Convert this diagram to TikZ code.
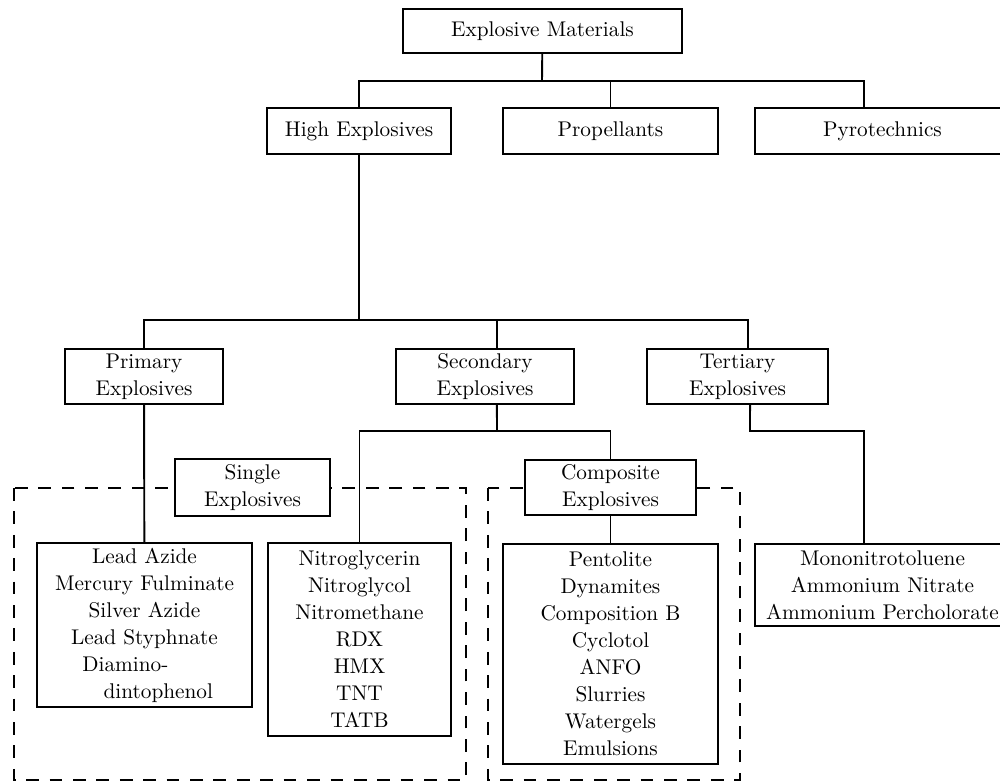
\documentclass[tikz,border=0pt]{standalone}
\usepackage{tikz}
\usetikzlibrary{positioning}

\begin{document}
\begin{tikzpicture}[x=0.47pt, y=-0.47pt,
    box/.style={draw, fill=white, line width=0.9pt, align=center, inner sep=1pt,
      font=\fontsize{10}{12.7}\selectfont},
    link/.style={line width=0.9pt},
    group/.style={line width=0.9pt, dash pattern=on 6pt off 5pt}]
  \clip (0,0) rectangle (1000,783);
  \draw[group] (14,488) rectangle (466,780);
  \draw[group] (488,488) rectangle (740,780);

  \node[box, minimum width=131.1pt, minimum height=20.7pt] (top) at (542.5,31) {Explosive Materials};
  \node[box, minimum width=86.5pt, minimum height=21.6pt] (hexp) at (359,131) {High Explosives};
  \node[box, minimum width=101pt, minimum height=21.6pt] (prop) at (610.5,131) {Propellants};
  \node[box, minimum width=120pt, minimum height=21.6pt] (pyro) at (882.5,131) {Pyrotechnics};

  \node[box, minimum width=74.3pt, minimum height=25.9pt] (prim) at (144,376.5) {Primary\\Explosives};
  \node[box, minimum width=83.7pt, minimum height=25.9pt] (sec) at (485,376.5) {Secondary\\Explosives};
  \node[box, minimum width=85.1pt, minimum height=25.9pt] (ter) at (737.5,376.5) {Tertiary\\Explosives};

  \node[box, minimum width=72.9pt, minimum height=26.8pt] (single) at (252.5,487.5) {Single\\Explosives};
  \node[box, minimum width=80.4pt, minimum height=25.9pt] (comp) at (610.5,487.5) {Composite\\Explosives};

  \node[box, minimum width=101pt, minimum height=77.1pt] (lead) at (144.5,625)
    {Lead Azide\\Mercury Fulminate\\Silver Azide\\Lead Styphnate\\
     Diamino-\rule{18pt}{0pt}\\\rule{13pt}{0pt}dintophenol};
  \node[box, minimum width=86pt, minimum height=90.7pt] (nitro) at (359.5,639.5)
    {Nitroglycerin\\Nitroglycol\\Nitromethane\\RDX\\HMX\\TNT\\TATB};
  \node[box, minimum width=101pt, minimum height=103.4pt] (pento) at (610.5,654)
    {Pentolite\\Dynamites\\Composition B\\Cyclotol\\ANFO\\Slurries\\Watergels\\Emulsions};
  \node[box, minimum width=120pt, minimum height=38.5pt] (mono) at (882.5,585)
    {Mononitrotoluene\\Ammonium Nitrate\\Ammonium Percholorate};

  \coordinate (bus1) at (542,81);
  \coordinate (bus2) at (360,320);
  \coordinate (bus3) at (497,431);
  \coordinate (bus4) at (750,431);

  \draw[link] (top) -- (bus1);
  \draw[link] (hexp.north) |- (bus1) -| ([xshift=-8.7pt]pyro.north);
  \draw[link] (prop.north) -- (prop.north |- bus1);
  \draw[link] (hexp.south) -- (hexp.south |- bus2);
  \draw[link] (prim.north) |- (bus2) -| ([xshift=4.9pt]ter.north);
  \draw[link] ([xshift=5.6pt]sec.north) -- ([xshift=5.6pt]sec.north |- bus2);
  \draw[link] ([xshift=5.6pt]sec.south) -- (bus3);
  \draw[link] (nitro.north) |- (bus3) -| (comp.north);
  \draw[link] (comp) -- (pento);
  \draw[link] (prim) -- (lead);
  \draw[link] ([xshift=5.9pt]ter.south) -- (bus4) -| ([xshift=-8.7pt]mono.north);
\end{tikzpicture}
\end{document}
